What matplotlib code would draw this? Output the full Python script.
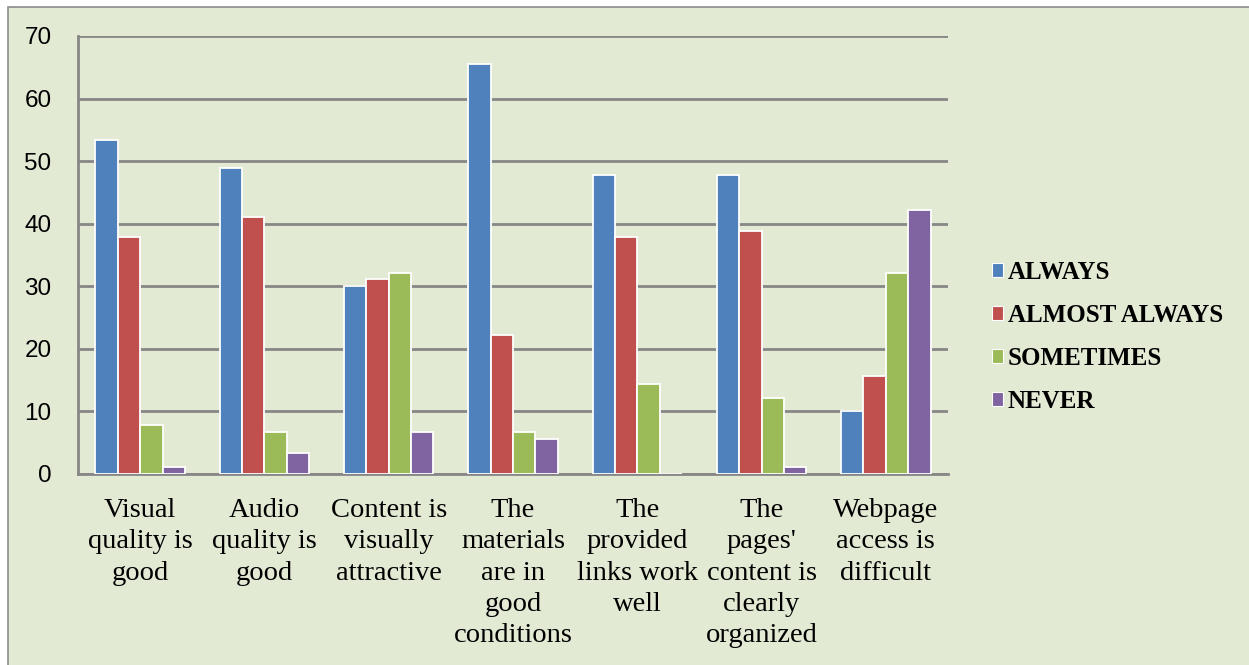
import numpy as np
import matplotlib
matplotlib.use('Agg')
import matplotlib.pyplot as plt
from matplotlib.patches import Rectangle, Patch

categories = [
    "Visual\nquality is\ngood",
    "Audio\nquality is\ngood",
    "Content is\nvisually\nattractive",
    "The\nmaterials\nare in\ngood\nconditions",
    "The\nprovided\nlinks work\nwell",
    "The\npages'\ncontent is\nclearly\norganized",
    "Webpage\naccess is\ndifficult",
]
series_names = ["ALWAYS", "ALMOST ALWAYS", "SOMETIMES", "NEVER"]
always = [53.3, 48.9, 30.0, 65.5, 47.8, 47.8, 10.0]
almost_always = [37.8, 41.1, 31.1, 22.2, 37.8, 38.9, 15.6]
sometimes = [7.8, 6.7, 32.2, 6.7, 14.4, 12.2, 32.2]
never = [1.1, 3.3, 6.7, 5.6, 0.0, 1.1, 42.2]
y_ticks = [0, 10, 20, 30, 40, 50, 60, 70]

colors = ["#4F81BD", "#C0504D", "#9BBB59", "#8064A2"]
bg = "#E2EAD4"
grid_col = "#878787"

fig = plt.figure(figsize=(12.49, 6.65), dpi=100, facecolor="white")
# chart area panel with grey border, kept behind the axes
fig.patches.append(Rectangle((8 / 1249, -0.01), 1.02, 1 - 7 / 665 + 0.01,
                             transform=fig.transFigure, facecolor=bg,
                             edgecolor="#8C8C8C", linewidth=1.2, zorder=-5))

ax = fig.add_axes([78 / 1249, 1 - 474 / 665, (948 - 78) / 1249, (474 - 36) / 665])
ax.set_facecolor("none")

x = np.arange(len(categories))
width = 0.18
all_series = [always, almost_always, sometimes, never]
for i, vals in enumerate(all_series):
    offs = (i - 1.5) * width
    ax.bar(x + offs, vals, width, color=colors[i], edgecolor="white",
           linewidth=1.3, zorder=3)

ax.set_xlim(-0.5, len(categories) - 0.5)
ax.set_ylim(0, 70)
ax.set_yticks(y_ticks)
ax.yaxis.grid(True, color=grid_col, linewidth=2, zorder=1)
ax.set_axisbelow(True)
for s in ["top", "right"]:
    ax.spines[s].set_visible(False)
for s in ["left", "bottom"]:
    ax.spines[s].set_color(grid_col)
    ax.spines[s].set_linewidth(2)

ax.tick_params(axis="y", length=0, pad=19, labelsize=17.5)
for lab in ax.get_yticklabels():
    lab.set_family("Liberation Sans")
ax.set_xticks(x)
ax.set_xticklabels(categories, family="Liberation Serif", fontsize=20.5,
                   linespacing=1.34, va="top")
ax.tick_params(axis="x", length=0, pad=17)

handles = [Patch(facecolor=c, edgecolor="white", linewidth=0.8) for c in colors]
fig.legend(handles, series_names, loc="center left",
           bbox_to_anchor=(979 / 1249, 1 - 337 / 665), frameon=False,
           borderpad=0, handlelength=0.45, handleheight=0.45,
           handletextpad=0.2, labelspacing=0.8,
           prop={"family": "Liberation Serif", "weight": "bold", "size": 18})

fig.savefig("out.png", dpi=100, facecolor="white")
